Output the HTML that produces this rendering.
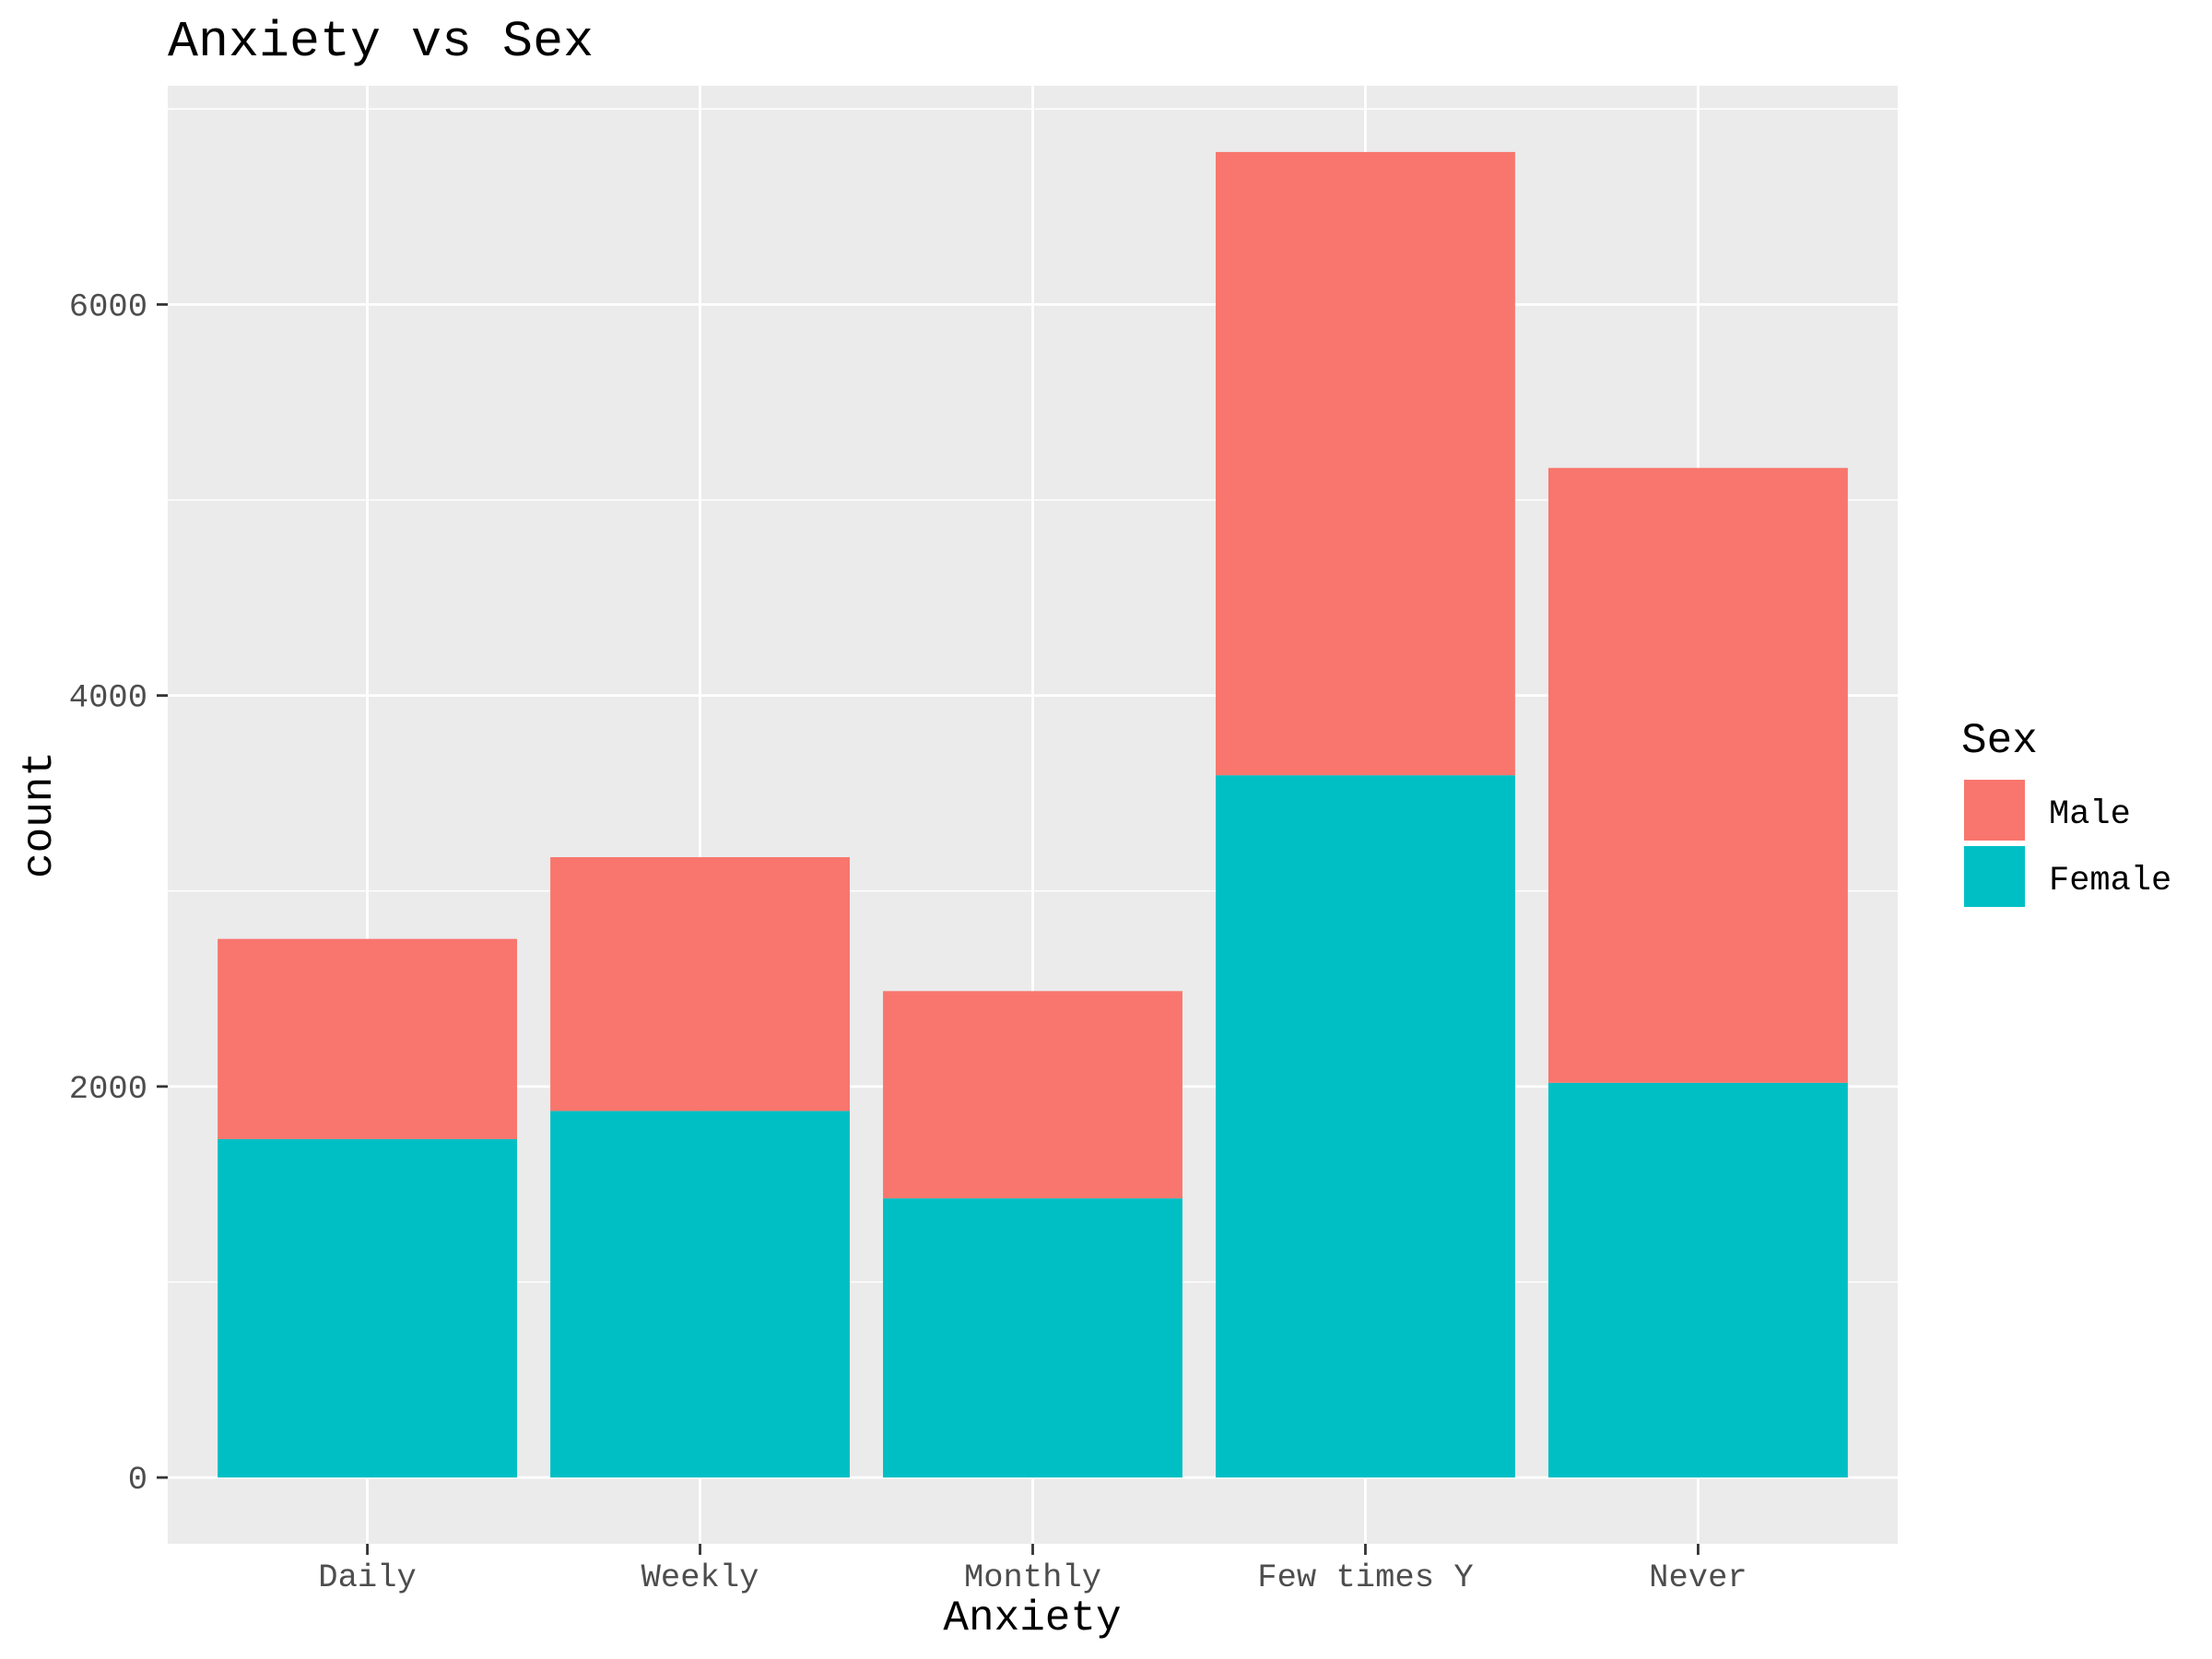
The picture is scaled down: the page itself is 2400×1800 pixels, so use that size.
<!DOCTYPE html>
<html><head><meta charset="utf-8"><style>
html,body{margin:0;padding:0;background:#fff}
svg{display:block}
text{font-family:"Liberation Mono",monospace}
</style></head><body>
<svg id="chart" width="2400" height="1800" viewBox="0 0 2400 1800" xmlns="http://www.w3.org/2000/svg">
<text x="182" y="60" font-size="55" fill="#000">Anxiety vs Sex</text>
<rect x="182" y="93" width="1877" height="1582" fill="#ebebeb"/>
<g id="grid"></g><g id="bars"></g><g id="axes"></g>
<text x="1120" y="1768" font-size="46" text-anchor="middle" fill="#000">Anxiety</text>
<text transform="translate(55,884) rotate(-90)" font-size="46" text-anchor="middle" fill="#000">count</text>
<g>
<text x="2128" y="816" font-size="46" fill="#000">Sex</text>
<rect x="2130" y="845" width="68" height="68" fill="#f8766d" stroke="#fff" stroke-width="2"/>
<text x="2223" y="893" font-size="37" fill="#000">Male</text>
<rect x="2130" y="917" width="68" height="68" fill="#00bfc4" stroke="#fff" stroke-width="2"/>
<text x="2223" y="965" font-size="37" fill="#000">Female</text>
</g>
</svg>
<script>
const categories = ["Daily","Weekly","Monthly","Few times Y","Never"];
const femaleValues = [1731,1875,1428,3592,2019];
const maleValues = [1024,1298,1060,3188,3145];
const yTicks = [0,2000,4000,6000];
const yMinor = [1000,3000,5000,7000];
const yTickLabels = ["0","2000","4000","6000"];

const NS="http://www.w3.org/2000/svg";
const pL=182,pR=2059,pT=93,pB=1675;
const totals=categories.map((c,i)=>femaleValues[i]+maleValues[i]);
const yMax=Math.max(...totals);
const pad=yMax*0.05;
const y=v=>pB-(v+pad)/(yMax+2*pad)*(pB-pT);
const unit=(pR-pL)/(categories.length+0.2);
const x=i=>pL+(0.6+i)*unit;
function mk(tag,attrs,parent){const e=document.createElementNS(NS,tag);for(const k in attrs)e.setAttribute(k,attrs[k]);parent.appendChild(e);return e;}
const grid=document.getElementById('grid'),bars=document.getElementById('bars'),axes=document.getElementById('axes');
yMinor.forEach(v=>{const yy=y(v);if(yy<pT)return;const l=mk('line',{x1:pL,x2:pR,y1:yy,y2:yy,stroke:'#fff','stroke-width':1.4},grid);

});
yTicks.forEach((v,i)=>{const yy=y(v);const l=mk('line',{x1:pL,x2:pR,y1:yy,y2:yy,stroke:'#fff','stroke-width':2.8},grid);


const t=mk('line',{x1:170,x2:pL,y1:yy,y2:yy,stroke:'#333','stroke-width':2.8},axes);


const tx=mk('text',{x:160,y:yy+12,'font-size':35.5,'text-anchor':'end',fill:'#4d4d4d'},axes);tx.textContent=yTickLabels[i];

});
categories.forEach((c,i)=>{const xx=x(i);const l=mk('line',{x1:xx,x2:xx,y1:pT,y2:pB,stroke:'#fff','stroke-width':2.8},grid);


const w=unit*0.9;
const f=mk('rect',{x:xx-w/2,y:y(femaleValues[i]),width:w,height:y(0)-y(femaleValues[i]),fill:'#00bfc4'},bars);


const m=mk('rect',{x:xx-w/2,y:y(totals[i]),width:w,height:y(femaleValues[i])-y(totals[i]),fill:'#f8766d'},bars);


const t=mk('line',{x1:xx,x2:xx,y1:pB,y2:pB+12,stroke:'#333','stroke-width':2.8},axes);


const tx=mk('text',{x:xx,y:1721,'font-size':35.5,'text-anchor':'middle',fill:'#4d4d4d'},axes);tx.textContent=c;

});
</script>
</body></html>
